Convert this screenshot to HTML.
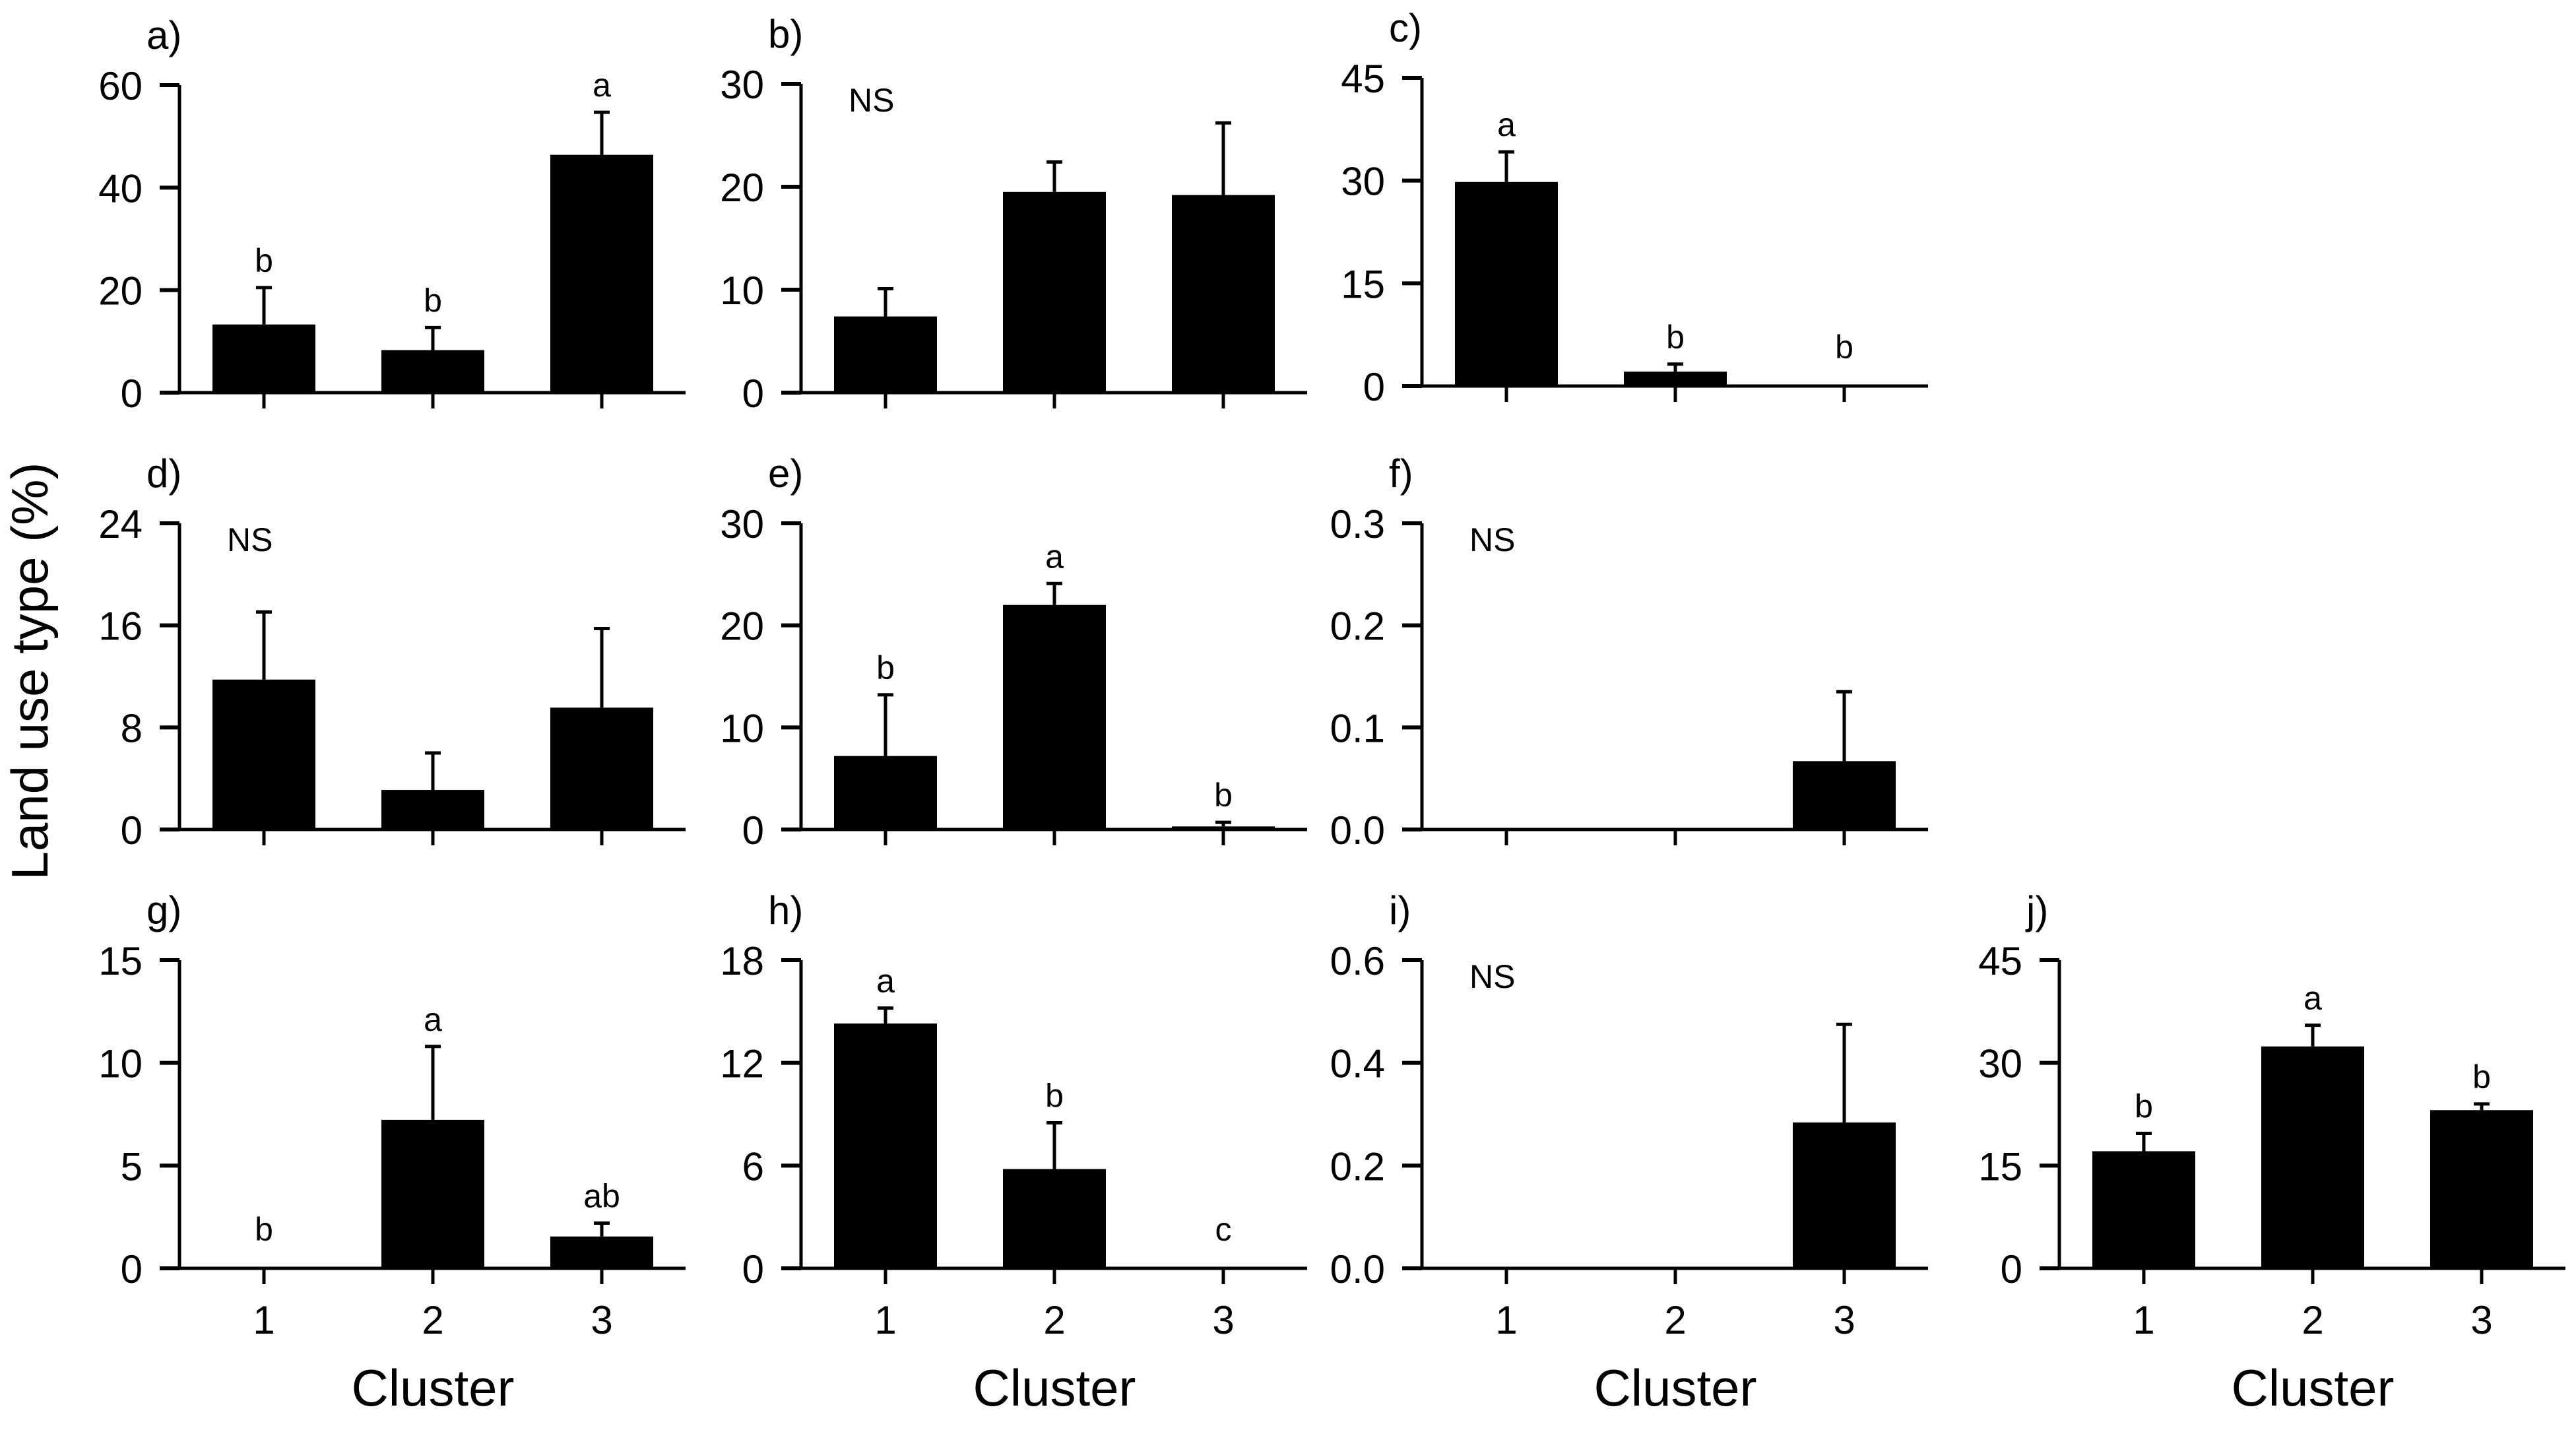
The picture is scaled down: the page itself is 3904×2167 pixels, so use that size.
<!DOCTYPE html>
<html><head><meta charset="utf-8"><style>
html,body{margin:0;padding:0;background:#fff;}
svg{display:block;font-family:"Liberation Sans",Arial,sans-serif;}
</style></head><body>
<svg id="fig" width="3904" height="2167" viewBox="0 0 3904 2167" xmlns="http://www.w3.org/2000/svg">
<text x="0" y="0" font-size="78" text-anchor="middle" transform="translate(72,1017) rotate(-90)">Land use type (%)</text>
</svg>
<script>
const panelIds = ['a','b','c','d','e','f','g','h','i','j'];
const meansA = [13.3, 8.3, 46.4];   const errA = [20.5, 12.7, 54.7];
const meansB = [7.4, 19.5, 19.2];   const errB = [10.1, 22.4, 26.2];
const meansC = [29.8, 2.1, 0];      const errC = [34.2, 3.2, 0];
const meansD = [11.75, 3.1, 9.55];  const errD = [17.05, 6.0, 15.75];
const meansE = [7.2, 22.0, 0.3];    const errE = [13.2, 24.1, 0.7];
const meansF = [0, 0, 0.067];       const errF = [0, 0, 0.135];
const meansG = [0, 7.23, 1.55];     const errG = [0, 10.8, 2.2];
const meansH = [14.3, 5.8, 0.05];   const errH = [15.2, 8.5, 0.05];
const meansI = [0, 0, 0.284];       const errI = [0, 0, 0.475];
const meansJ = [17.1, 32.4, 23.1];  const errJ = [19.7, 35.5, 24.0];
const ticksA = [0,20,40,60]; const ticksB = [0,10,20,30]; const ticksC = [0,15,30,45];
const ticksD = [0,8,16,24]; const ticksE = [0,10,20,30]; const ticksF = ['0.0','0.1','0.2','0.3'];
const ticksG = [0,5,10,15]; const ticksH = [0,6,12,18]; const ticksI = ['0.0','0.2','0.4','0.6'];
const ticksJ = [0,15,30,45];
const lettersA = ['b','b','a']; const lettersB = null; const lettersC = ['a','b','b'];
const lettersD = null; const lettersE = ['b','a','b']; const lettersF = null;
const lettersG = ['b','a','ab']; const lettersH = ['a','b','c']; const lettersI = null;
const lettersJ = ['b','a','b'];
const categories = ['1','2','3'];

const means = [meansA,meansB,meansC,meansD,meansE,meansF,meansG,meansH,meansI,meansJ];
const errs = [errA,errB,errC,errD,errE,errF,errG,errH,errI,errJ];
const ticks = [ticksA,ticksB,ticksC,ticksD,ticksE,ticksF,ticksG,ticksH,ticksI,ticksJ];
const letters = [lettersA,lettersB,lettersC,lettersD,lettersE,lettersF,lettersG,lettersH,lettersI,lettersJ];

// layout
const colX = [272,1214,2155,3121];
const layout = [[0,129,595],[1,127,595],[2,118,585],[0,793,1257],[1,793,1257],[2,793,1257],[0,1455,1922],[1,1455,1922],[2,1455,1922],[3,1455,1922]];
const bottomRow = [6,7,8,9];
const svg = document.getElementById('fig');
const NS = 'http://www.w3.org/2000/svg';
function mk(tag, attrs, parent){const e=document.createElementNS(NS,tag);for(const k in attrs)e.setAttribute(k,attrs[k]);(parent||svg).appendChild(e);return e;}

panelIds.forEach((pid,p)=>{
  const [col,top,zero] = layout[p];
  const ax = colX[col];
  const tk = ticks[p];
  const maxV = parseFloat(tk[tk.length-1]);
  const y = v => zero - (v/maxV)*(zero-top);
  const x = i => ax + 128 + i*256;
  const g = mk('g',{});
  
  
  const lab = mk('text',{x:ax-50,y:top-55,'font-size':60},g);
  
  
  lab.textContent = pid+')';
  // bars
  means[p].forEach((m,i)=>{
    if(m>0){
      const r = mk('rect',{x:x(i)-78,y:y(m),width:156,height:zero-y(m),fill:'#000'},g);
      
      
    }
    const e = errs[p][i];
    if(e>m){
      const eb = mk('path',{d:`M${x(i)} ${y(m)} V${y(e)} M${x(i)-12} ${y(e)} H${x(i)+12}`,stroke:'#000','stroke-width':5,fill:'none'},g);
      
      
    }
    if(letters[p]){
      const ly = (e>0.02*maxV) ? y(e)-24 : zero-42;
      const t = mk('text',{x:x(i),y:ly,'font-size':50,'text-anchor':'middle'},g);
      
      
      t.textContent = letters[p][i];
    }
    const xt = mk('line',{x1:x(i),x2:x(i),y1:zero,y2:zero+24,stroke:'#000','stroke-width':5},g);
    
    
    if(bottomRow.includes(p)){
      const c = mk('text',{x:x(i),y:2021,'font-size':60,'text-anchor':'middle'},g);
      
      
      c.textContent = categories[i];
    }
  });
  if(!letters[p]){
    const ns = mk('text',{x:ax+72,y:top+42,'font-size':50},g);
    
    
    ns.textContent='NS';
  }
  // axes
  const axl = mk('path',{d:`M${ax} ${top} V${zero} H${ax+767}`,stroke:'#000','stroke-width':5,fill:'none'},g);
  
  
  tk.forEach(t=>{
    const v = parseFloat(t);
    const l = mk('line',{x1:ax-30,x2:ax,y1:y(v),y2:y(v),stroke:'#000','stroke-width':6},g);
    
    
    const tl = mk('text',{x:ax-56,y:y(v)+22,'font-size':60,'text-anchor':'end'},g);
    
    
    tl.textContent = String(t);
  });
  if(bottomRow.includes(p)){
    const ct = mk('text',{x:x(1),y:2130,'font-size':78,'text-anchor':'middle'},g);
    
    
    ct.textContent='Cluster';
  }
});
</script>
</body></html>
